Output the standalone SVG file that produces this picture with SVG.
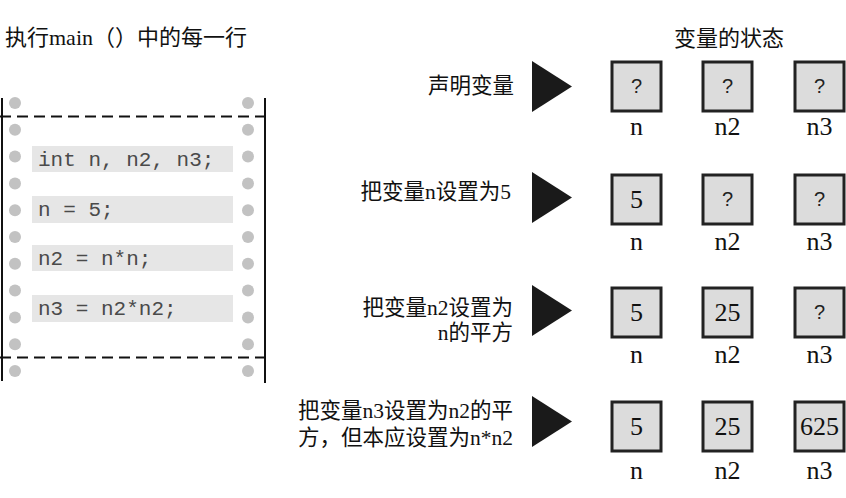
<svg xmlns="http://www.w3.org/2000/svg" width="846" height="498" viewBox="0 0 846 498">
<style>
.t{font-family:"Liberation Serif","Noto Sans CJK SC",serif;font-size:22px;fill:#111}
.lab{font-family:"Liberation Serif","Noto Sans CJK SC",serif;font-size:21.5px;fill:#111;text-anchor:end}
.code{font-family:"Liberation Mono",monospace;font-size:21px;fill:#4a4a4a}
.cbox{fill:#e6e6e6}
.dot{fill:#c2c2c2}
.edge{stroke:#111;stroke-width:2;fill:none}
.dash{stroke:#111;stroke-width:2;stroke-dasharray:11 6;fill:none}
.tri{fill:#1a1a1a}
.vbox{fill:#dcdcdc;stroke:#222;stroke-width:3}
.q{font-family:"Liberation Sans",sans-serif;font-size:20px;fill:#222;text-anchor:middle}
.num{font-family:"Liberation Serif",serif;font-size:26px;fill:#111;text-anchor:middle}
.vn{font-family:"Liberation Serif",serif;font-size:26px;fill:#111;text-anchor:middle}
</style>
<rect width="846" height="498" fill="#fff"/>
<text class="t" x="5" y="45">执行main（）中的每一行</text>
<text class="t" x="729" y="46" text-anchor="middle">变量的状态</text>

<g id="program">
<line class="edge" x1="2" y1="98" x2="2" y2="381"/>
<line class="edge" x1="265" y1="98" x2="265" y2="383"/>
<line class="dash" x1="0" y1="116.5" x2="265" y2="116.5"/>
<line class="dash" x1="0" y1="357.5" x2="265" y2="357.5"/>
<g>
<circle class="dot" cx="15" cy="103" r="6"/><circle class="dot" cx="248" cy="103" r="6"/>
<circle class="dot" cx="15" cy="129.8" r="6"/><circle class="dot" cx="248" cy="129.8" r="6"/>
<circle class="dot" cx="15" cy="156.6" r="6"/><circle class="dot" cx="248" cy="156.6" r="6"/>
<circle class="dot" cx="15" cy="183.4" r="6"/><circle class="dot" cx="248" cy="183.4" r="6"/>
<circle class="dot" cx="15" cy="210.2" r="6"/><circle class="dot" cx="248" cy="210.2" r="6"/>
<circle class="dot" cx="15" cy="237" r="6"/><circle class="dot" cx="248" cy="237" r="6"/>
<circle class="dot" cx="15" cy="263.8" r="6"/><circle class="dot" cx="248" cy="263.8" r="6"/>
<circle class="dot" cx="15" cy="290.6" r="6"/><circle class="dot" cx="248" cy="290.6" r="6"/>
<circle class="dot" cx="15" cy="317.4" r="6"/><circle class="dot" cx="248" cy="317.4" r="6"/>
<circle class="dot" cx="15" cy="344.2" r="6"/><circle class="dot" cx="248" cy="344.2" r="6"/>
<circle class="dot" cx="15" cy="371" r="6"/><circle class="dot" cx="248" cy="371" r="6"/>
</g>
<g id="line1"><rect class="cbox" x="32" y="146" width="201" height="26"/><text class="code" x="38" y="166">int n, n2, n3;</text></g>
<g id="line2"><rect class="cbox" x="32" y="196" width="201" height="27"/><text class="code" x="38" y="216">n = 5;</text></g>
<g id="line3"><rect class="cbox" x="32" y="245" width="201" height="26"/><text class="code" x="38" y="265">n2 = n*n;</text></g>
<g id="line4"><rect class="cbox" x="32" y="295" width="201" height="27"/><text class="code" x="38" y="315">n3 = n2*n2;</text></g>
</g>

<g id="row1">
<text class="lab" x="514" y="93">声明变量</text>
<polygon class="tri" points="532,61 532,112 572,86.5"/>
<rect class="vbox" x="612" y="62" width="49" height="49"/><text class="q" x="636.5" y="93">?</text>
<rect class="vbox" x="703" y="62" width="49" height="49"/><text class="q" x="727.5" y="93">?</text>
<rect class="vbox" x="795" y="62" width="49" height="49"/><text class="q" x="819.5" y="93">?</text>
<text class="vn" x="636.5" y="135">n</text><text class="vn" x="727.5" y="135">n2</text><text class="vn" x="819.5" y="135">n3</text>
</g>

<g id="row2">
<text class="lab" x="511" y="199">把变量n设置为5</text>
<polygon class="tri" points="532,172 532,223 572,197.5"/>
<rect class="vbox" x="612" y="175" width="49" height="49"/><text class="num" x="636.5" y="208">5</text>
<rect class="vbox" x="703" y="175" width="49" height="49"/><text class="q" x="727.5" y="206">?</text>
<rect class="vbox" x="795" y="175" width="49" height="49"/><text class="q" x="819.5" y="206">?</text>
<text class="vn" x="636.5" y="250">n</text><text class="vn" x="727.5" y="250">n2</text><text class="vn" x="819.5" y="250">n3</text>
</g>

<g id="row3">
<text class="lab" x="513" y="315">把变量n2设置为</text>
<text class="lab" x="513" y="340">n的平方</text>
<polygon class="tri" points="532,285 532,336 572,310.5"/>
<rect class="vbox" x="612" y="288" width="49" height="49"/><text class="num" x="636.5" y="321">5</text>
<rect class="vbox" x="703" y="288" width="49" height="49"/><text class="num" x="727.5" y="321">25</text>
<rect class="vbox" x="795" y="288" width="49" height="49"/><text class="q" x="819.5" y="319">?</text>
<text class="vn" x="636.5" y="363">n</text><text class="vn" x="727.5" y="363">n2</text><text class="vn" x="819.5" y="363">n3</text>
</g>

<g id="row4">
<text class="lab" x="513" y="418">把变量n3设置为n2的平</text>
<text class="lab" x="513" y="445">方，但本应设置为n*n2</text>
<polygon class="tri" points="532,396 532,447 572,421.5"/>
<rect class="vbox" x="612" y="402" width="49" height="49"/><text class="num" x="636.5" y="435">5</text>
<rect class="vbox" x="703" y="402" width="49" height="49"/><text class="num" x="727.5" y="435">25</text>
<rect class="vbox" x="795" y="402" width="49" height="49"/><text class="num" x="819.5" y="435">625</text>
<text class="vn" x="636.5" y="479">n</text><text class="vn" x="727.5" y="479">n2</text><text class="vn" x="819.5" y="479">n3</text>
</g>
</svg>
